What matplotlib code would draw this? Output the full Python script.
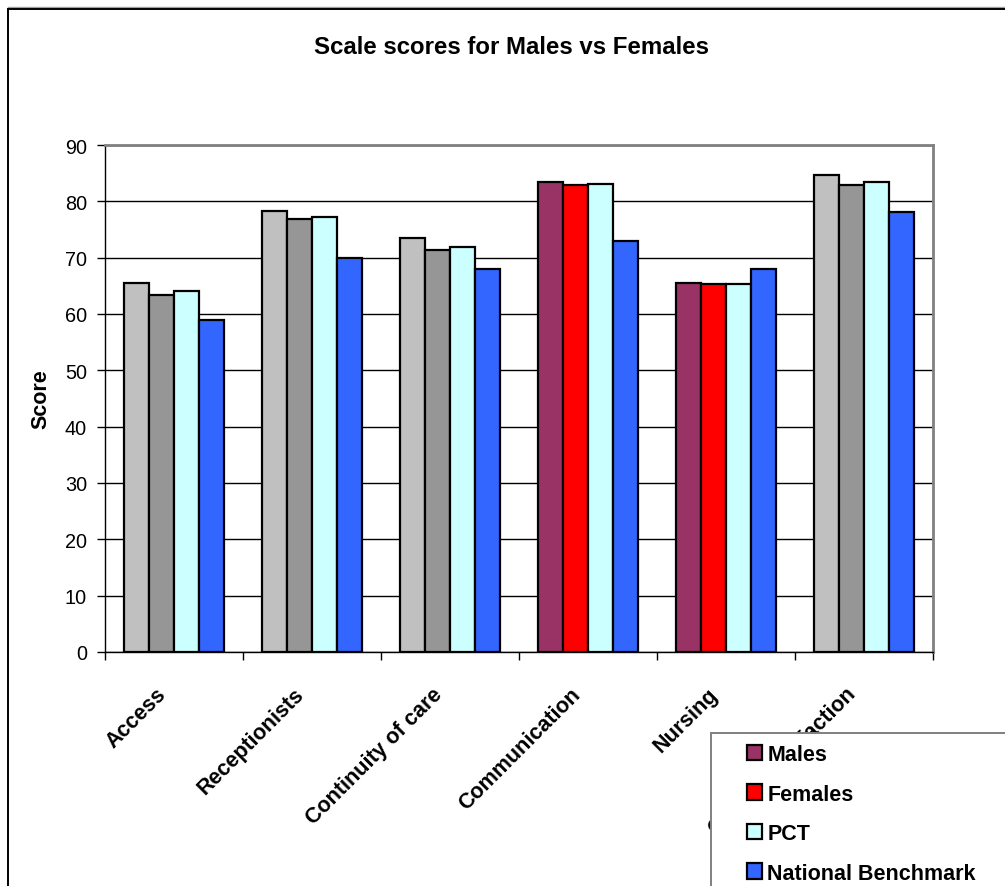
import matplotlib
matplotlib.use("Agg")
import matplotlib.pyplot as plt
from matplotlib.patches import Rectangle, Patch
from matplotlib.lines import Line2D
from matplotlib.transforms import ScaledTranslation
import numpy as np

plt.rcParams['font.family'] = ['Liberation Sans', 'DejaVu Sans']

categories = ["Access", "Receptionists", "Continuity of care", "Communication",
              "Nursing", "Overall satisfaction"]
males = [65.5, 78.3, 73.5, 83.4, 65.5, 84.7]
females = [63.4, 76.8, 71.4, 82.9, 65.3, 82.9]
pct = [64.0, 77.3, 71.9, 83.0, 65.4, 83.5]
national = [58.9, 70.0, 68.0, 73.0, 68.0, 78.1]
highlighted = [False, False, False, True, True, False]
series_labels = ["Males", "Females", "PCT", "National Benchmark"]
yticks = [0, 10, 20, 30, 40, 50, 60, 70, 80, 90]

c_male_hi, c_male_lo = "#993366", "#C0C0C0"
c_fem_hi, c_fem_lo = "#FF0000", "#969696"
c_pct = "#CCFFFF"
c_nat = "#3366FF"

W, H = 1005, 887
fig = plt.figure(figsize=(W / 100, H / 100), dpi=100)
ax = fig.add_axes([105 / W, 1 - 653 / H, (933 - 105) / W, (653 - 146) / H])

x = np.arange(len(categories))
bw = 0.1825
male_cols = [c_male_hi if h else c_male_lo for h in highlighted]
fem_cols = [c_fem_hi if h else c_fem_lo for h in highlighted]
ekw = dict(edgecolor="black", linewidth=1.6, zorder=3)
ax.bar(x - 1.5 * bw, males, bw, color=male_cols, **ekw)
ax.bar(x - 0.5 * bw, females, bw, color=fem_cols, **ekw)
ax.bar(x + 0.5 * bw, pct, bw, color=c_pct, **ekw)
ax.bar(x + 1.5 * bw, national, bw, color=c_nat, **ekw)

ax.set_xlim(-0.5, len(categories) - 0.5)
ax.set_ylim(0, 90)
ax.set_yticks(yticks)
ax.yaxis.grid(True, color="black", linewidth=1.0, zorder=0)
ax.set_axisbelow(True)
ax.tick_params(axis="y", direction="out", length=6, width=1, labelsize=14.3, pad=7)
ax.set_xticks(x)
ax.set_xticks(np.arange(-0.5, len(categories), 1.0), minor=True)
ax.tick_params(axis="x", which="major", length=0, pad=28)
ax.tick_params(axis="x", which="minor", length=6, width=1, direction="out")
ax.set_xticklabels(categories, rotation=45, ha="right", rotation_mode="anchor",
                   fontsize=15.5, fontweight="bold", va="center")
off = ScaledTranslation(-11 / 100, 0, fig.dpi_scale_trans)
for lab in ax.get_xticklabels():
    lab.set_transform(lab.get_transform() + off)
for side in ["top", "right"]:
    ax.spines[side].set_color("#808080")
    ax.spines[side].set_linewidth(2)
for side in ["left", "bottom"]:
    ax.spines[side].set_color("black")
    ax.spines[side].set_linewidth(1)
ax.set_ylabel("Score", fontsize=15.5, fontweight="bold")
ax.yaxis.set_label_coords((51 - 105) / (933 - 105), 0.5)

fig.suptitle("Scale scores for Males vs Females", x=511 / W, y=1 - 47 / H,
             fontsize=17.3, fontweight="bold", va="center")

# outer chart border
fig.add_artist(Line2D([8 / W, 1], [1 - 8 / H, 1 - 8 / H], color="#A0A0A0", lw=1.0,
                      transform=fig.transFigure))
fig.add_artist(Line2D([8 / W, 8 / W], [0, 1 - 9.5 / H], color="black", lw=1.4,
                      transform=fig.transFigure))
fig.add_artist(Line2D([8 / W, 1], [1 - 9.5 / H, 1 - 9.5 / H], color="black", lw=1.4,
                      transform=fig.transFigure))

# legend box (extends past figure edge)
fig.add_artist(Rectangle((711 / W, -0.05), 0.5, 1 - 734 / H + 0.05,
                         transform=fig.transFigure, facecolor="white",
                         edgecolor="#808080", linewidth=1.4, zorder=4))
handles = [Patch(facecolor=c, edgecolor="black", linewidth=1.6)
           for c in [c_male_hi, c_fem_hi, c_pct, c_nat]]
leg = fig.legend(handles, series_labels, loc="upper left",
                 bbox_to_anchor=(747 / W, 1 - 745 / H), frameon=False,
                 prop=dict(size=15.5, weight="bold"), handlelength=0.7,
                 handleheight=0.7, handletextpad=0.25, labelspacing=0.86,
                 borderaxespad=0, borderpad=0)
leg.set_zorder(5)

fig.savefig("out.png", dpi=100)
